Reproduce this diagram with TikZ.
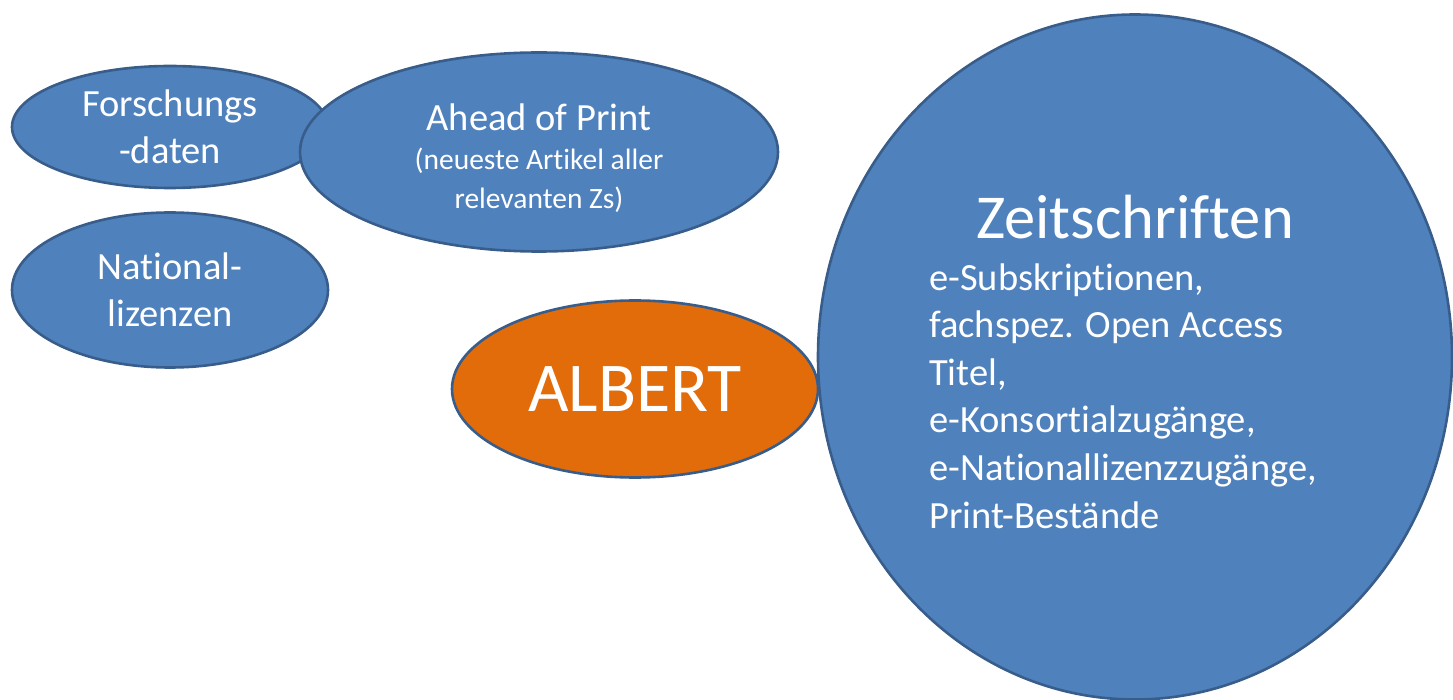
\documentclass[tikz,border=0pt]{standalone}
\usepackage{fontspec}
\setmainfont{Carlito}[Ligatures={NoCommon,NoContextual}]
\usetikzlibrary{shapes.geometric}
\definecolor{blobblue}{HTML}{4F81BD}
\definecolor{blobline}{HTML}{385D8A}
\definecolor{alberto}{HTML}{E36C0A}
\tikzset{
  blob/.style={draw=blobline, line width=2.6pt, fill=blobblue, ellipse, inner sep=0pt,
    text=white, align=center, font=\fontsize{38.5}{47}\selectfont},
  blobtext/.style={text=white, align=center, inner sep=0pt},
}
\begin{document}
\begin{tikzpicture}[x=1pt,y=-1pt]
\useasboundingbox (0,0) rectangle (1453,700);
\clip (0,0) rectangle (1453,700);
% small topics
\node[blob, minimum width=316, minimum height=122] (forsch) at (170,127) {Forschungs\\-daten};
\node[blob, minimum width=478, minimum height=199] (ahead) at (539,152) {};
\node[blobtext, font=\fontsize{38.5}{47}\selectfont, anchor=base] (aheadtitle) at (539,131) {Ahead of Print};
\node[blobtext, font=\fontsize{29.5}{37}\selectfont, anchor=base] (aheadsub) at (539,209)
  {(neueste Artikel aller\\[2pt]relevanten Zs)};
\node[blob, minimum width=316, minimum height=155] (natl) at (170,290) {National-\\lizenzen};

% centre
\node[blob, fill=alberto, minimum width=366, minimum height=177, font=\fontsize{70}{84}\selectfont] (albert) at (635,389) {\raisebox{-2pt}{ALBERT}};

% journals
\node[blob, minimum width=634, minimum height=685] (zs) at (1135,357) {};
\node[blobtext, font=\fontsize{62.5}{75}\selectfont, anchor=base] (zstitle) at (1135,239) {Zeitschriften};
\node[blobtext, font=\fontsize{38.5}{47.6}\selectfont, align=left, anchor=base west] (zslist) at (929,528)
  {e-Subskriptionen,\\fachspez. Open Access\\Titel,\\e-Konsortialzugänge,\\e-Nationallizenzzugänge,\\Print-Bestände};
\end{tikzpicture}
\end{document}
